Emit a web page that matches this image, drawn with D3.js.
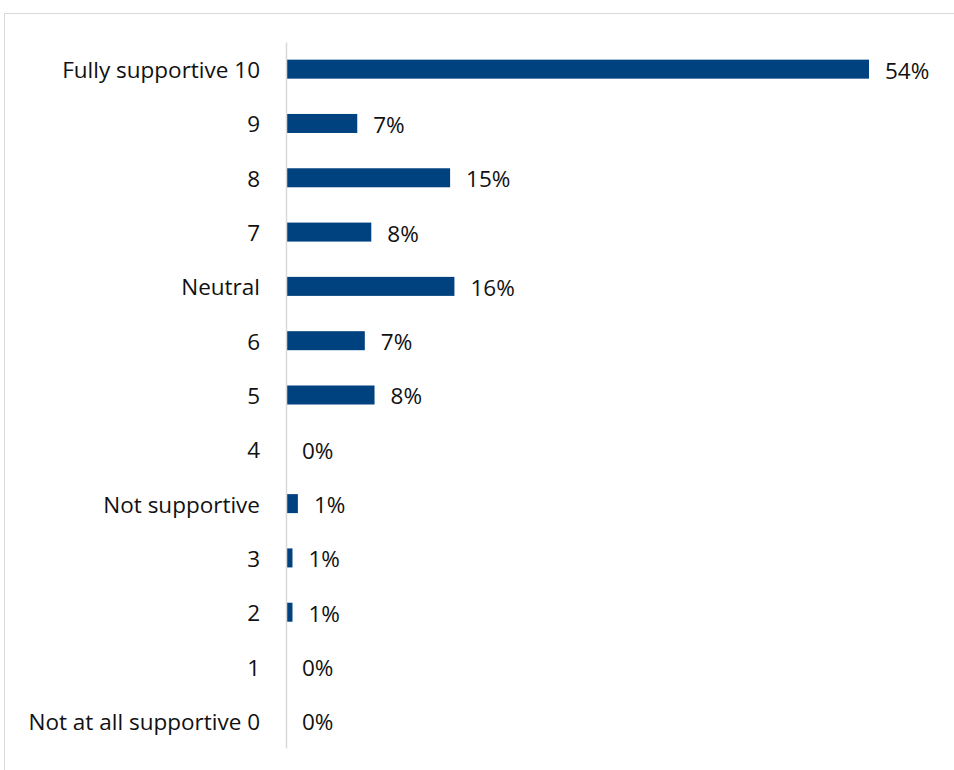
<!DOCTYPE html>
<html><head><meta charset="utf-8">
<script src="https://cdn.jsdelivr.net/npm/d3@7"></script>
<style>body{margin:0;background:#fff;} text{font-family:"Open Sans","Noto Sans",sans-serif;}</style>
</head><body>
<svg id="chart" width="954" height="770"></svg>
<script>
const categories = ["Fully supportive 10","9","8","7","Neutral","6","5","4","Not supportive","3","2","1","Not at all supportive 0"];
const values = [54.0, 6.6, 15.2, 7.9, 15.6, 7.3, 8.2, 0, 1.1, 0.6, 0.6, 0, 0];
const valueLabels = ["54%","7%","15%","8%","16%","7%","8%","0%","1%","1%","1%","0%","0%"];

(function(){
const svg = d3.select("#chart");
svg.append("rect").attr("x",4.5).attr("y",13.5).attr("width",1000).attr("height",1000)
  .attr("fill","#fff").attr("stroke","#d9d9d9").attr("stroke-width",1);

const x0 = 286, plotTop = 42, plotBottom = 748;
const x = d3.scaleLinear().domain([0,54]).range([x0, 869]);
const y = d3.scaleBand().domain(categories).range([plotTop,plotBottom]).paddingInner(0.65).paddingOuter(0.325);

const data = categories.map((c,i)=>({c, v:values[i], l:valueLabels[i]}));

svg.selectAll("rect.bar").data(data).join("rect").attr("class","bar")
  .attr("x", x(0)).attr("y", d=>y(d.c)).attr("width", d=>x(d.v)-x(0)).attr("height", y.bandwidth())
  .attr("fill","#004280");

const fs = 22.5;
const yAxis = d3.axisLeft(y).tickSize(0).tickPadding(26);
const g = svg.append("g").attr("transform",`translate(${x0},0)`).call(yAxis);
g.select(".domain").attr("stroke","#d9d9d9").attr("stroke-width",1.5);
g.selectAll("text").attr("font-size",fs).attr("fill","#111").attr("dy","0.4em").style("font-family",'"Open Sans","Noto Sans",sans-serif');

svg.selectAll("text.val").data(data).join("text").attr("class","val")
  .attr("x", d=>x(d.v)+16).attr("y", d=>y(d.c)+y.bandwidth()/2).attr("dy","0.42em")
  .attr("font-size",fs).attr("fill","#111").text(d=>d.l);
})();
</script>
</body></html>
